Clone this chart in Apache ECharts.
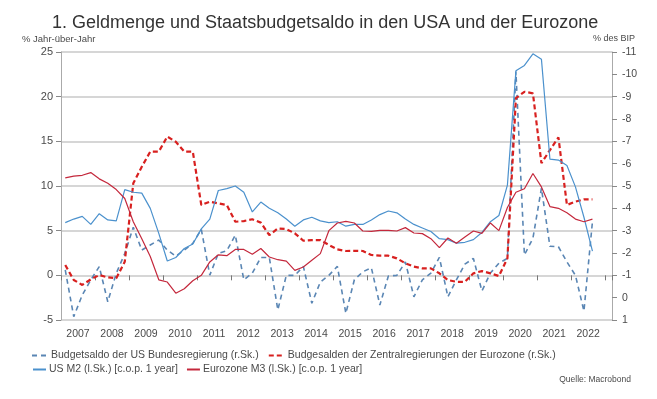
<!DOCTYPE html>
<html>
<head>
<meta charset="utf-8">
<script src="https://cdn.jsdelivr.net/npm/echarts@6/dist/echarts.min.js"></script>
<style>
html,body{margin:0;padding:0;background:#fff;}
#c{width:657px;height:399px;}
</style>
</head>
<body>
<div id="c"></div>
<script>
// Quarters 2007Q1 .. 2022Q3
const startYear = 2007;
const quarterCount = 63;
const quarters = [];
for (let i = 0; i < quarterCount; i++) {
  quarters.push((startYear + Math.floor(i / 4)) + ' Q' + (i % 4 + 1));
}

const yearLabels = ['2007','2008','2009','2010','2011','2012','2013','2014','2015','2016','2017','2018','2019','2020','2021','2022'];
const leftTicks = [-5, 0, 5, 10, 15, 20, 25];
const rightTicks = [-11,-10,-9,-8,-7,-6,-5,-4,-3,-2,-1,0,1];

// US federal budget balance, % of GDP (right axis)
const usBudget = [
  -1.24, 0.85, -0.12, -0.79, -1.39, 0.18, -1.09, -1.98,
  -3.15, -2.13, -2.36, -2.58, -2.13, -1.86, -2.13, -2.43,
  -3.06, -1.01, -1.98, -2.1, -2.8, -0.8, -1.1, -1.8,
  -1.8, 0.55, -1.0, -1.0, -1.4, 0.25, -0.7, -1.0,
  -1.4, 0.7, -0.8, -1.16, -1.34, 0.33, -0.97, -1.0,
  -1.6, -0.04, -0.8, -1.1, -1.8, -0.04, -0.8, -1.5,
  -1.76, -0.3, -1.1, -1.54, -1.76, -10.12, -1.91, -2.66,
  -4.9, -2.3, -2.28, -1.6, -1.0, 0.6, -3.4
];
// Eurozone central government balances, % of GDP (right axis)
const ezBudget = [
  -1.46, -0.79, -0.57, -0.82, -1.01, -0.91, -0.87, -1.61,
  -5.12, -5.86, -6.54, -6.54, -7.21, -6.98, -6.54, -6.54,
  -4.15, -4.3, -4.22, -4.15, -3.4, -3.43, -3.51, -3.36,
  -2.8, -3.1, -3.07, -2.88, -2.55, -2.58, -2.58, -2.36,
  -2.16, -2.09, -2.1, -2.09, -1.91, -1.88, -1.88, -1.76,
  -1.54, -1.39, -1.31, -1.31, -1.09, -0.79, -0.71, -0.71,
  -1.09, -1.19, -1.09, -0.97, -1.76, -8.93, -9.22, -9.15,
  -6.02, -6.61, -7.18, -4.15, -4.3, -4.4, -4.4
];
// US M2, % y/y (left axis)
const usM2 = [
  5.9, 6.3, 6.6, 5.7, 6.9, 6.2, 6.1, 9.6,
  9.3, 9.2, 7.5, 4.7, 1.6, 2.0, 3.0, 3.5,
  5.2, 6.3, 9.5, 9.7, 10.0, 9.3, 7.1, 8.2,
  7.5, 7.0, 6.3, 5.5, 6.2, 6.5, 6.1, 5.9,
  6.0, 5.5, 5.7, 5.7, 6.2, 6.8, 7.2, 7.0,
  6.3, 5.7, 5.3, 4.9, 4.1, 4.0, 3.6, 3.7,
  4.0, 4.8, 6.0, 6.7, 10.1, 22.9, 23.5, 24.8,
  24.2, 13.0, 12.9, 12.3, 9.9, 6.5, 2.7
];
// Eurozone M3, % y/y (left axis)
const ezM3 = [
  10.9, 11.1, 11.2, 11.5, 10.8, 10.3, 9.6, 8.6,
  6.0, 4.1, 2.1, -0.5, -0.75, -2.0, -1.5, -0.6,
  0.0, 1.5, 2.3, 2.2, 2.9, 2.9, 2.35, 3.0,
  2.05, 1.75, 1.6, 0.56, 0.93, 1.68, 2.43, 5.0,
  5.86, 6.05, 5.86, 4.96, 4.93, 5.04, 5.04, 4.96,
  5.34, 4.74, 4.67, 4.1, 3.1, 4.18, 3.6, 4.3,
  4.96, 4.7, 5.86, 5.0, 7.6, 9.3, 9.7, 11.4,
  9.9, 7.7, 7.5, 7.0, 6.3, 6.0, 6.3
];

const names = [
  'Budgetsaldo der US Bundesregierung (r.Sk.)',
  'Budgesalden der Zentralregierungen der Eurozone (r.Sk.)',
  'US M2 (l.Sk.) [c.o.p. 1 year]',
  'Eurozone M3 (l.Sk.) [c.o.p. 1 year]'
];

function qPos(label) {
  const y = parseInt(label.slice(0, 4), 10);
  const q = parseInt(label.slice(6), 10);
  return y + (q - 1) * 0.25 + 0.125;
}
function pairs(arr) { return arr.map((v, i) => [qPos(quarters[i]), v]); }

const FONT = '"Liberation Sans", Arial, sans-serif';
const TXT = '#4a4a4a';
const chart = echarts.init(document.getElementById('c'), null, {renderer: 'canvas'});
chart.setOption({
  animation: false,
  backgroundColor: '#fff',
  textStyle: {fontFamily: FONT},
  title: {
    text: '1. Geldmenge und Staatsbudgetsaldo in den USA und der Eurozone',
    left: 47, top: 9,
    textStyle: {fontFamily: FONT, fontSize: 18, fontWeight: 'normal', color: '#333'}
  },
  legend: [
    {
      data: [names[0], names[1]], left: 26, top: 345, itemWidth: 16, itemHeight: 10, itemGap: 9,
      itemStyle: {opacity: 0},
      textStyle: {fontFamily: FONT, fontSize: 10.5, color: TXT, padding: [0,0,0,-2]}
    },
    {
      data: [names[2], names[3]], left: 27, top: 359, itemWidth: 13, itemHeight: 10, itemGap: 8,
      itemStyle: {opacity: 0},
      textStyle: {fontFamily: FONT, fontSize: 10.5, color: TXT, padding: [0,0,0,-2]}
    }
  ],
  graphic: [
    {type: 'text', left: 22, top: 34, style: {text: '% Jahr-über-Jahr', fontFamily: FONT, fontSize: 9.5, fill: TXT}},
    {type: 'text', right: 22, top: 34, style: {text: '% des BIP', fontFamily: FONT, fontSize: 9, fill: TXT}},
    {type: 'text', right: 26, top: 375, style: {text: 'Quelle: Macrobond', fontFamily: FONT, fontSize: 8.5, fill: TXT}}
  ],
  grid: {left: 61, right: 45, top: 52, bottom: 79, containLabel: false},
  xAxis: {
    type: 'value', min: 2007, max: 2023.2, interval: 1, offset: 3,
    axisLine: {show: false},
    axisTick: {show: true, length: 5, lineStyle: {color: '#777'}},
    splitLine: {show: false},
    axisLabel: {
      show: true, margin: 6, fontFamily: FONT, fontSize: 10.5, color: TXT,
      align: 'center', padding: [0, 0, 0, 34],
      formatter: v => {
        const s = String(v);
        return yearLabels.indexOf(s) >= 0 ? s : '';
      }
    }
  },
  yAxis: [
    {
      type: 'value', min: leftTicks[0], max: leftTicks[leftTicks.length - 1], interval: 5, position: 'left',
      axisLine: {show: true, lineStyle: {color: '#aaa'}},
      axisTick: {show: true, length: 5, lineStyle: {color: '#888'}},
      splitLine: {show: true, lineStyle: {color: '#c9c9c9', width: 1.5}},
      axisLabel: {fontFamily: FONT, fontSize: 11, color: TXT, margin: 8}
    },
    {
      type: 'value', min: rightTicks[0], max: rightTicks[rightTicks.length - 1], interval: 1, inverse: true, position: 'right',
      axisLine: {show: true, lineStyle: {color: '#aaa'}},
      axisTick: {show: true, length: 5, lineStyle: {color: '#888'}},
      splitLine: {show: false},
      axisLabel: {fontFamily: FONT, fontSize: 10.5, color: TXT, margin: 10}
    }
  ],
  series: [
    {
      name: names[0], type: 'line', yAxisIndex: 1, data: pairs(usBudget), symbol: 'none',
      lineStyle: {color: '#5a86b4', width: 1.6, type: [5, 4]}, itemStyle: {color: '#5a86b4'}
    },
    {
      name: names[1], type: 'line', yAxisIndex: 1, data: pairs(ezBudget), symbol: 'none',
      lineStyle: {color: '#d8201f', width: 2.2, type: [5, 3]}, itemStyle: {color: '#d8201f'}
    },
    {
      name: names[2], type: 'line', yAxisIndex: 0, data: pairs(usM2), symbol: 'none',
      lineStyle: {color: '#4b91cd', width: 1.2}, itemStyle: {color: '#4b91cd'}
    },
    {
      name: names[3], type: 'line', yAxisIndex: 0, data: pairs(ezM3), symbol: 'none',
      lineStyle: {color: '#c4283c', width: 1.2}, itemStyle: {color: '#c4283c'}
    }
  ]
});
</script>
</body>
</html>
